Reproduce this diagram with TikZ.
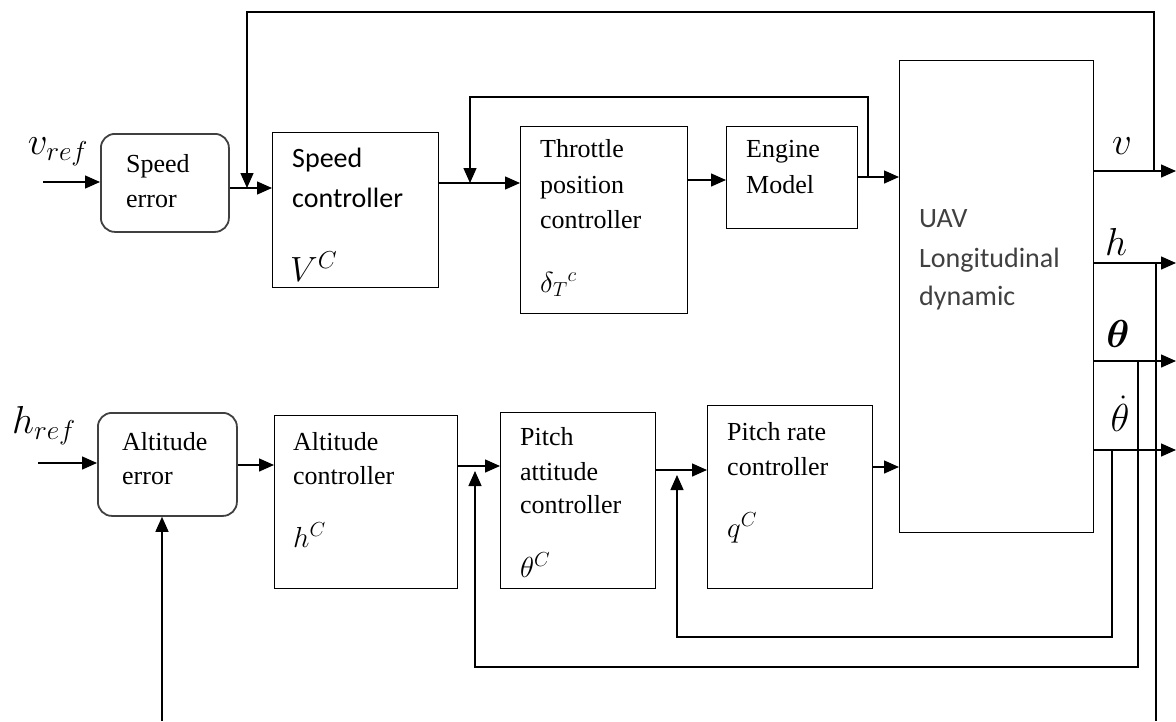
\RequirePackage{fix-cm}
\documentclass[tikz,border=0pt]{standalone}
\usepackage{amsmath}
\usepackage{fontspec}
\usetikzlibrary{arrows.meta}
\newfontfamily\tms{Liberation Serif}
\newfontfamily\calib{Carlito}
\begin{document}
\begin{tikzpicture}[x=1pt,y=-1pt,
  blk/.style={draw, line width=1.4pt, inner sep=0, anchor=north west},
  rblk/.style={draw=black!75, line width=1.8pt, rounded corners=14pt, inner sep=0, anchor=north west},
  arr/.style={line width=1.4pt, -{Triangle[length=15pt,width=13pt]}},
  ln/.style={line width=1.4pt},
  tt/.style={font=\tms\fontsize{26}{30}\selectfont, anchor=base west, inner sep=0},
  cb/.style={font=\calib\fontsize{28}{32}\selectfont, anchor=base west, inner sep=0},
  cbg/.style={font=\calib\fontsize{28}{32}\selectfont, text=black!75, anchor=base west, inner sep=0},
  mt/.style={font=\fontsize{29}{34}\selectfont, anchor=base west, inner sep=0},
  mtb/.style={font=\fontsize{35}{40}\selectfont, anchor=base west, inner sep=0},
  ml/.style={font=\fontsize{39}{44}\selectfont, inner sep=0}]
\useasboundingbox (0,0) rectangle (1176,721);
% blocks
\node[rblk, minimum width=128pt, minimum height=98pt] (se) at (100,133) {};
\node[blk, minimum width=166pt, minimum height=155pt] (sc) at (272,132) {};
\node[blk, minimum width=167pt, minimum height=187pt] (tpc) at (520,126) {};
\node[blk, minimum width=131pt, minimum height=102pt] (em) at (726,126) {};
\node[blk, minimum width=194pt, minimum height=472pt] (uav) at (899,60) {};
\node[rblk, minimum width=139pt, minimum height=103pt] (ae) at (97,412) {};
\node[blk, minimum width=183pt, minimum height=173pt] (ac) at (274,415) {};
\node[blk, minimum width=155pt, minimum height=176pt] (pac) at (500,412) {};
\node[blk, minimum width=165pt, minimum height=183pt] (prc) at (707,405) {};
% block texts
\node[tt] (se1) at (126,172) {Speed};
\node[tt] (se2) at (126,207) {error};
\node[cb] (sc1) at (292,167) {Speed};
\node[cb] (sc2) at (292,207) {controller};
\node[mtb] (sc3) at (290,281) {$V^{C}$};
\node[tt] (tp1) at (540,157) {Throttle};
\node[tt] (tp2) at (540,193) {position};
\node[tt] (tp3) at (540,228) {controller};
\node[mt] (tp4) at (540,292) {$\delta_{T}{}^{c}$};
\node[tt] (em1) at (746,157) {Engine};
\node[tt] (em2) at (746,193) {Model};
\node[cbg] (ua1) at (919,227) {UAV};
\node[cbg] (ua2) at (919,267) {Longitudinal};
\node[cbg] (ua3) at (919,305) {dynamic};
\node[tt] (ae1) at (122,450) {Altitude};
\node[tt] (ae2) at (122,484) {error};
\node[tt] (ac1) at (293,450) {Altitude};
\node[tt] (ac2) at (293,484) {controller};
\node[mt] (ac3) at (293,547) {$h^{C}$};
\node[tt] (pa1) at (520,445) {Pitch};
\node[tt] (pa2) at (520,480) {attitude};
\node[tt] (pa3) at (520,513) {controller};
\node[mt] (pa4) at (520,577) {$\theta^{C}$};
\node[tt] (pr1) at (727,440) {Pitch rate};
\node[tt] (pr2) at (727,475) {controller};
\node[mt] (pr3) at (727,537) {$q^{C}$};
% signal labels
\node[ml] (lvref) at (58,152) {$v_{ref}$};
\node[ml] (lhref) at (44,426) {$h_{ref}$};
\node[ml] (lv) at (1122,146) {$v$};
\node[ml] (lh) at (1116,242) {$h$};
\node[ml] (lth) at (1118,334) {$\boldsymbol{\theta}$};
\node[ml] (ltd) at (1120,414) {$\dot{\theta}$};
% coordinates
\coordinate (vin) at (43,182);
\coordinate (hin) at (38,463);
\coordinate (j1) at (247,188);
\coordinate (j2) at (470,183);
\coordinate (y3) at (0,180);
\coordinate (j3) at (868,177);
\coordinate (top) at (0,12);
\coordinate (il) at (0,97);
\coordinate (vo) at (1176,171);
\coordinate (tl) at (1154,171);
\coordinate (ho) at (1176,263);
\coordinate (hf) at (1156,263);
\coordinate (bot) at (0,721);
\coordinate (hb) at (162,721);
\coordinate (to) at (1176,361);
\coordinate (tf) at (1138,361);
\coordinate (b2) at (0,667);
\coordinate (j4) at (475,471);
\coordinate (tdo) at (1176,450);
\coordinate (tdf) at (1112,450);
\coordinate (b3) at (0,637);
\coordinate (j5) at (677,475);
\coordinate (ya) at (0,465);
\coordinate (yb) at (0,466);
\coordinate (yc) at (0,470);
\coordinate (yd) at (0,467);
% upper chain
\draw[arr] (vin) -- (se.west |- vin);
\draw[arr] (se.east |- j1) -- (sc.west |- j1);
\draw[arr] (sc.east |- j2) -- (tpc.west |- j2);
\draw[arr] (tpc.east |- y3) -- (em.west |- y3);
\draw[arr] (em.east |- j3) -- (uav.west |- j3);
\draw[arr] (j3) -- (j3 |- il) -- (j2 |- il) -- (j2);
\draw[arr] (tl) -- (tl |- top) -- (j1 |- top) -- (j1);
% outputs
\draw[arr] (uav.east |- vo) -- (vo);
\draw[arr] (uav.east |- ho) -- (ho);
\draw[arr] (uav.east |- to) -- (to);
\draw[arr] (uav.east |- tdo) -- (tdo);
% lower chain
\draw[arr] (hin) -- (ae.west |- hin);
\draw[arr] (ae.east |- ya) -- (ac.west |- ya);
\draw[arr] (ac.east |- yb) -- (pac.west |- yb);
\draw[arr] (pac.east |- yc) -- (prc.west |- yc);
\draw[arr] (prc.east |- yd) -- (uav.west |- yd);
% feedbacks
\draw[ln] (hf) -- (hf |- bot);
\draw[arr] (hb) -- (hb |- ae.south);
\draw[arr] (tf) |- (j4 |- b2) -- (j4);
\draw[arr] (tdf) |- (j5 |- b3) -- (j5);
\end{tikzpicture}
\end{document}
